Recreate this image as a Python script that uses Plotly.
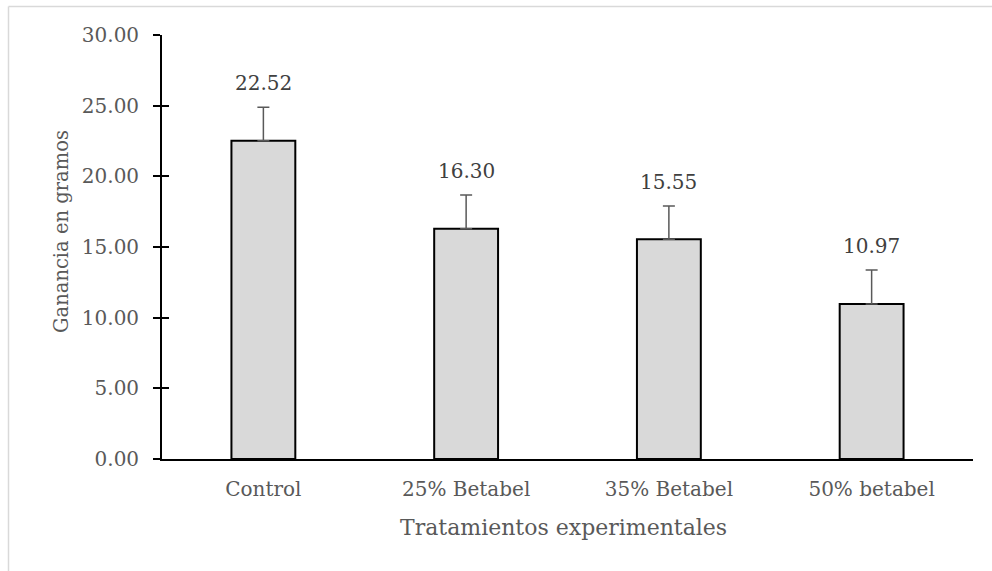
import plotly.graph_objects as go

categories = ["Control", "25% Betabel", "35% Betabel", "50% betabel"]
values = [22.52, 16.30, 15.55, 10.97]
errors = [2.36, 2.38, 2.35, 2.40]
value_labels = ["22.52", "16.30", "15.55", "10.97"]
y_ticks = [0, 5, 10, 15, 20, 25, 30]
y_tick_labels = ["0.00", "5.00", "10.00", "15.00", "20.00", "25.00", "30.00"]
x_title = "Tratamientos experimentales"
y_title = "Ganancia en gramos"

FONT = "DejaVu Serif"
TXT = "#595959"

W, H = 992, 571
l, r, t, b = 162, 19, 35, 112
pw, ph = W - l - r, H - t - b
def px(x):
    return (x - l) / pw
def py(y):
    return (H - b - y) / ph

fig = go.Figure()
fig.add_trace(go.Bar(
    x=categories, y=values,
    marker=dict(color="#d9d9d9", line=dict(color="#000000", width=2)),
    error_y=dict(type="data", array=errors, symmetric=False, arrayminus=[0]*len(errors),
                 color="#595959", thickness=1.5, width=6),
    width=0.315,
    hoverinfo="skip",
))
# invisible trace to activate yaxis2 (cross ticks)
fig.add_trace(go.Scatter(x=categories, y=values, yaxis="y2", mode="markers",
                         marker=dict(opacity=0), showlegend=False, hoverinfo="skip"))

for c, v, e, tx in zip(categories, values, errors, value_labels):
    fig.add_annotation(x=c, y=v + e, text=tx, showarrow=False, yanchor="bottom",
                       yshift=10, font=dict(family=FONT, size=20, color="#404040"))

fig.add_annotation(xref="paper", yref="paper", x=px(563), y=py(527), text=x_title,
                   showarrow=False, xanchor="center", yanchor="middle",
                   font=dict(family=FONT, size=22, color=TXT))
fig.add_annotation(xref="paper", yref="paper", x=px(61), y=py(232), text=y_title,
                   textangle=-90, showarrow=False, xanchor="center", yanchor="middle",
                   font=dict(family=FONT, size=19.5, color=TXT))

fig.update_layout(
    width=W, height=H,
    margin=dict(l=l, r=r, t=t, b=b),
    paper_bgcolor="white", plot_bgcolor="white",
    showlegend=False,
    font=dict(family=FONT, size=20, color=TXT),
    xaxis=dict(
        showline=True, linecolor="#000000", linewidth=1.8,
        ticks="", showgrid=False, zeroline=False,
        tickfont=dict(family=FONT, size=20, color=TXT),
        ticklabelstandoff=11,
    ),
    yaxis=dict(
        range=[0, 30], tickvals=y_ticks, ticktext=y_tick_labels,
        showline=True, linecolor="#000000", linewidth=1.8,
        ticks="outside", ticklen=7, tickwidth=1.8, tickcolor="#000000",
        showgrid=False, zeroline=False,
        tickfont=dict(family=FONT, size=20, color=TXT),
        ticklabelstandoff=10,
    ),
    yaxis2=dict(
        range=[0, 30], tickvals=y_ticks, overlaying="y", side="left", anchor="x",
        showticklabels=False, showline=False, showgrid=False, zeroline=False,
        ticks="inside", ticklen=7, tickwidth=1.8, tickcolor="#000000",
    ),
)

# outer chart border (top and left visible edges)
fig.add_shape(type="line", xref="paper", yref="paper",
              x0=px(8.5), x1=px(992), y0=py(6.5), y1=py(6.5),
              line=dict(color="#d9d9d9", width=1.5))
fig.add_shape(type="line", xref="paper", yref="paper",
              x0=px(8.5), x1=px(8.5), y0=py(6.5), y1=py(571),
              line=dict(color="#d9d9d9", width=1.5))

fig.write_html("out.html", config={"displayModeBar": False},
               post_script="document.body.style.margin='0px';")
